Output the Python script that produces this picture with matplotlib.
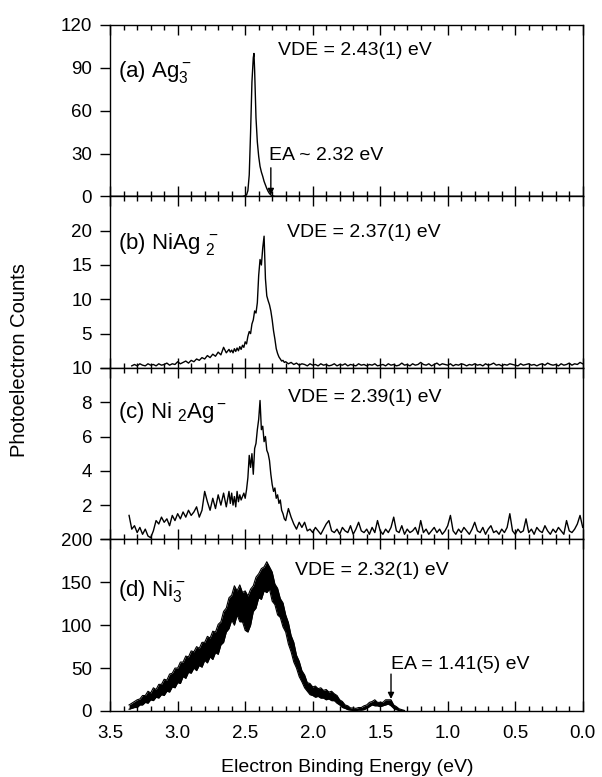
import numpy as np
import matplotlib
matplotlib.use("Agg")
import matplotlib.pyplot as plt
from matplotlib.ticker import MultipleLocator

plt.rcParams['font.family'] = 'Liberation Sans'
plt.rcParams['mathtext.fontset'] = 'custom'
plt.rcParams['mathtext.rm'] = 'Liberation Sans'
plt.rcParams['mathtext.it'] = 'Liberation Sans:italic'
plt.rcParams['mathtext.bf'] = 'Liberation Sans:bold'

# (a) Ag3-  : sharp single peak
ag3_energy = [3.50, 2.52, 2.50, 2.49, 2.48, 2.47, 2.46, 2.45, 2.44, 2.435, 2.43,
              2.42, 2.41, 2.40, 2.39, 2.38, 2.37, 2.36, 2.35, 2.34, 2.33, 2.32,
              2.31, 2.30, 2.28, 0.00]
ag3_counts = [0, 0, 0.5, 1, 4, 15, 45, 80, 97, 100, 88,
              55, 38, 28, 21, 17, 14, 10.5, 8, 5.5, 3.5, 2,
              1, 0.5, 0, 0]

# (b) NiAg2-  : three pieces (0.02 / 0.01 / 0.02 eV steps)
niag2_counts_1 = [0.3, 0.5, 0.3, 0.6, 0.4, 0.3, 0.6, 0.4, 0.5, 0.3,
                  0.6, 0.4, 0.5, 0.7, 0.4, 0.6, 0.5, 0.9, 0.6, 0.8,
                  1.0, 0.7, 1.1, 0.9, 1.3, 1.1, 1.5, 1.3, 1.8, 1.5,
                  2.0, 1.7, 2.3, 1.9, 3.0, 2.2, 2.7]                   # 3.34 -> 2.62
niag2_counts_2 = [2.3, 2.6, 2.2, 2.8, 2.4, 2.9, 2.5, 3.1, 2.7, 3.3,
                  3.0, 3.8, 3.5, 4.6, 5.3, 5.0, 6.4, 7.0, 8.3, 8.0,
                  9.5, 13.5, 15.8, 15.0, 17.5, 19.2, 13.0, 10.5, 9.8, 9.2,
                  8.3, 7.0, 5.4, 4.2, 2.8, 2.1, 1.6, 1.3, 1.0, 1.1,
                  0.8]                                                 # 2.61 -> 2.21
niag2_counts_3 = [0.9, 0.6, 0.8, 0.5, 0.7, 0.4, 0.6, 0.5, 0.3, 0.6,
                  0.4, 0.5, 0.3, 0.6, 0.4, 0.5, 0.3, 0.4, 0.6, 0.3,
                  0.5, 0.4, 0.6, 0.3, 0.5, 0.4, 0.3, 0.6, 0.4, 0.5,
                  0.3, 0.5, 0.4, 0.6, 0.3, 0.4, 0.5, 0.3, 0.6, 0.4,
                  0.5, 0.3, 0.4, 0.7, 0.4, 0.5, 0.3, 0.6, 0.4, 0.5,
                  0.8, 0.5, 0.4, 0.6, 0.3, 0.5, 0.7, 0.4, 0.6, 0.5,
                  0.4, 0.6, 0.3, 0.5, 0.4, 0.6, 0.5, 0.3, 0.5, 0.4,
                  0.6, 0.4, 0.5, 0.3, 0.6, 0.4, 0.5, 0.7, 0.4, 0.5,
                  0.3, 0.5, 0.4, 0.6, 0.5, 0.4, 0.3, 0.6, 0.4, 0.5,
                  0.6, 0.4, 0.5, 0.3, 0.5, 0.6, 0.4, 0.7, 0.5, 0.4,
                  0.5, 0.3, 0.6, 0.4, 0.5, 0.7, 0.4, 0.6, 0.5, 0.8,
                  0.6]                                                 # 2.20 -> 0.00

# (c) Ni2Ag-
ni2ag_counts_1 = [1.4, 0.6, 0.8, 0.4, 0.7, 0.3, 0.6, 0.2, 0.1, 0.5,
                  1.1, 0.9, 1.3, 1.0, 1.2, 0.8, 1.4, 1.1, 1.5, 1.2,
                  1.6, 1.3, 1.7, 1.4, 1.6, 1.9, 1.3, 1.7, 2.8, 2.2,
                  1.7, 2.4, 1.8, 2.6, 2.0, 2.7, 1.9, 2.8]              # 3.36 -> 2.62
ni2ag_counts_2 = [2.1, 2.7, 2.0, 2.5, 1.9, 2.8, 2.2, 2.6, 2.3, 2.5,
                  2.7, 2.4, 2.9, 3.6, 4.9, 4.2, 5.0, 3.8, 5.3, 5.6,
                  6.4, 7.0, 8.1, 6.4, 6.6, 5.7, 6.0, 5.2, 5.0, 4.6,
                  3.8, 3.2, 2.8, 3.0, 2.4, 2.6, 2.1, 2.3, 1.7, 1.5,
                  1.2]                                                 # 2.61 -> 2.21
ni2ag_counts_3 = [1.1, 1.8, 1.3, 0.9, 0.6, 1.0, 0.7, 1.0, 0.5, 0.6,
                  0.4, 0.7, 0.5, 0.3, 0.6, 0.9, 1.1, 0.5, 0.4, 0.6,
                  0.3, 0.7, 0.5, 0.4, 0.8, 0.3, 0.6, 1.0, 0.5, 0.4,
                  0.6, 0.3, 0.7, 0.4, 1.1, 0.5, 0.3, 0.6, 0.4, 0.7,
                  1.3, 0.5, 0.4, 0.8, 0.3, 0.6, 0.4, 0.5, 0.7, 0.3,
                  1.1, 0.4, 0.6, 0.3, 0.5, 0.7, 0.4, 0.6, 0.3, 0.5,
                  0.8, 1.4, 0.5, 0.3, 0.6, 0.4, 0.7, 0.5, 0.3, 0.6,
                  1.0, 0.5, 0.4, 0.7, 0.3, 0.6, 0.8, 0.4, 0.5, 0.3,
                  0.6, 0.4, 0.7, 1.5, 0.5, 0.3, 0.6, 0.4, 0.5, 1.2,
                  0.4, 0.6, 0.3, 0.7, 0.5, 0.4, 0.8, 0.5, 0.3, 0.6,
                  0.4, 0.7, 0.5, 0.3, 1.1, 0.5, 0.4, 0.6, 0.9, 1.4,
                  0.7]                                                 # 2.20 -> 0.00

# (d) Ni3-  : noisy band, lower / upper edge, 3.36 -> 1.32 every 0.02 eV
ni3_low = [2, 3, 4, 4, 7, 7, 10, 9, 13, 12,
           16, 15, 19, 18, 23, 22, 28, 27, 33, 32,
           40, 38, 45, 44, 50, 47, 53, 51, 59, 56,
           63, 60, 68, 66, 77, 80, 92, 96, 106, 100,
           112, 104, 104, 94, 92, 100, 116, 120, 132, 130,
           140, 138, 142, 128, 124, 112, 109, 98, 92, 78,
           69, 57, 50, 40, 34, 27, 23, 19, 18, 16,
           17, 15, 15, 13, 14, 12, 12, 9, 7, 4,
           3, 1.5, 1, 0.5, 0.5, 1, 1, 1.5, 3, 5,
           7, 6, 6, 5, 6, 7, 8, 6, 3, 1.5,
           0.5, 0.2, 0]
ni3_high = [7, 9, 11, 13, 14, 18, 18, 23, 21, 27,
            25, 31, 31, 37, 36, 43, 44, 50, 50, 57,
            57, 64, 63, 70, 69, 75, 73, 80, 80, 87,
            85, 93, 92, 101, 104, 116, 120, 132, 135, 146,
            140, 147, 138, 140, 134, 142, 146, 156, 160, 166,
            168, 174, 168, 162, 148, 143, 131, 126, 112, 103,
            88, 80, 65, 58, 47, 42, 33, 32, 28, 29,
            26, 27, 24, 25, 22, 23, 20, 18, 13, 11,
            7, 6, 3.5, 3.5, 3, 4, 4, 6, 7, 10,
            11, 13, 10, 10, 10, 13, 13, 13, 7, 5,
            2.5, 1.5, 0.6]

# y tick values / labels per panel (bottom "0" of b and c sits under the
# "10" / "200" of the panel below, as in the original)
a_ticks = [0, 30, 60, 90, 120]
a_labels = ['0', '30', '60', '90', '120']
b_ticks = [0, 5, 10, 15, 20]
b_labels = ['', '5', '10', '15', '20']
c_ticks = [0, 2, 4, 6, 8, 10]
c_labels = ['', '2', '4', '6', '8', '10']
d_ticks = [0, 50, 100, 150, 200]
d_labels = ['0', '50', '100', '150', '200']

niag2_energy = np.concatenate([np.linspace(3.34, 2.62, len(niag2_counts_1)),
                               np.linspace(2.61, 2.21, len(niag2_counts_2)),
                               np.linspace(2.20, 0.00, len(niag2_counts_3))])
niag2_counts = niag2_counts_1 + niag2_counts_2 + niag2_counts_3
ni2ag_energy = np.concatenate([np.linspace(3.36, 2.62, len(ni2ag_counts_1)),
                               np.linspace(2.61, 2.21, len(ni2ag_counts_2)),
                               np.linspace(2.20, 0.00, len(ni2ag_counts_3))])
ni2ag_counts = ni2ag_counts_1 + ni2ag_counts_2 + ni2ag_counts_3
ni3_energy = np.linspace(3.36, 1.32, len(ni3_low))

fig, axes = plt.subplots(4, 1, figsize=(6.02, 7.77), dpi=100, sharex=True)
fig.subplots_adjust(left=0.183, right=0.968, top=0.968, bottom=0.085, hspace=0)
ax_a, ax_b, ax_c, ax_d = axes

ax_a.plot(ag3_energy, ag3_counts, color='black', lw=1.0)
ax_b.plot(niag2_energy, niag2_counts, color='black', lw=1.0)
ax_c.plot(ni2ag_energy, ni2ag_counts, color='black', lw=1.0)
ax_d.fill_between(ni3_energy, ni3_low, ni3_high, color='black', lw=0)
ax_d.plot(ni3_energy, ni3_low, color='black', lw=0.8)
ax_d.plot(ni3_energy, ni3_high, color='black', lw=0.8)

ax_a.set_ylim(0, 120)
ax_a.set_yticks(a_ticks, a_labels)
ax_b.set_ylim(0, 25)
ax_b.set_yticks(b_ticks, b_labels)
ax_c.set_ylim(0, 10)
ax_c.set_yticks(c_ticks, c_labels)
ax_d.set_ylim(0, 200)
ax_d.set_yticks(d_ticks, d_labels)

for ax in axes:
    ax.set_xlim(3.5, 0.0)
    ax.xaxis.set_major_locator(MultipleLocator(0.5))
    ax.xaxis.set_minor_locator(MultipleLocator(0.1))
    ax.tick_params(axis='x', which='both', direction='in', top=True, bottom=True)
    ax.tick_params(axis='x', which='major', length=7, width=1)
    ax.tick_params(axis='x', which='minor', length=3.5, width=1)
    ax.tick_params(axis='y', direction='out', length=7, width=1, pad=6,
                   labelsize=13.5, right=False)
    for s in ax.spines.values():
        s.set_linewidth(1.0)
ax_d.tick_params(axis='x', labelsize=13.5, pad=10)

tfs = 14
lfs = 16
ax_a.text(3.44, 83.5, r'(a) Ag$\mathregular{_3^-}$', fontsize=lfs)
ax_b.text(3.44, 17.4, r'(b) NiAg $\mathregular{{}_2^-}$', fontsize=lfs)
ax_c.text(3.44, 7.1, r'(c) Ni $\mathregular{{}_2}$Ag$\mathregular{^-}$', fontsize=lfs)
ax_d.text(3.44, 134, r'(d) Ni$\mathregular{_3^-}$', fontsize=lfs)

ax_a.text(2.26, 99, 'VDE = 2.43(1) eV', fontsize=tfs)
ax_b.text(2.19, 19.1, 'VDE = 2.37(1) eV', fontsize=tfs)
ax_c.text(2.18, 8.0, 'VDE = 2.39(1) eV', fontsize=tfs)
ax_d.text(2.13, 159, 'VDE = 2.32(1) eV', fontsize=tfs)

ax_a.text(2.32, 25.8, 'EA ~ 2.32 eV', fontsize=tfs)
ax_a.annotate('', xy=(2.31, 1), xytext=(2.31, 20),
              arrowprops=dict(arrowstyle='-|>', color='black', lw=1.0,
                              mutation_scale=9, shrinkA=0, shrinkB=0))
ax_d.text(1.42, 48.6, 'EA = 1.41(5) eV', fontsize=tfs)
ax_d.annotate('', xy=(1.42, 14), xytext=(1.42, 43),
              arrowprops=dict(arrowstyle='-|>', color='black', lw=1.0,
                              mutation_scale=9, shrinkA=0, shrinkB=0))

fig.text(0.576, 0.006, 'Electron Binding Energy (eV)', fontsize=14,
         ha='center', va='baseline')
fig.text(0.033, 0.537, 'Photoelectron Counts', rotation=90, fontsize=14.5,
         ha='center', va='center')

fig.savefig('out.png', dpi=100)
